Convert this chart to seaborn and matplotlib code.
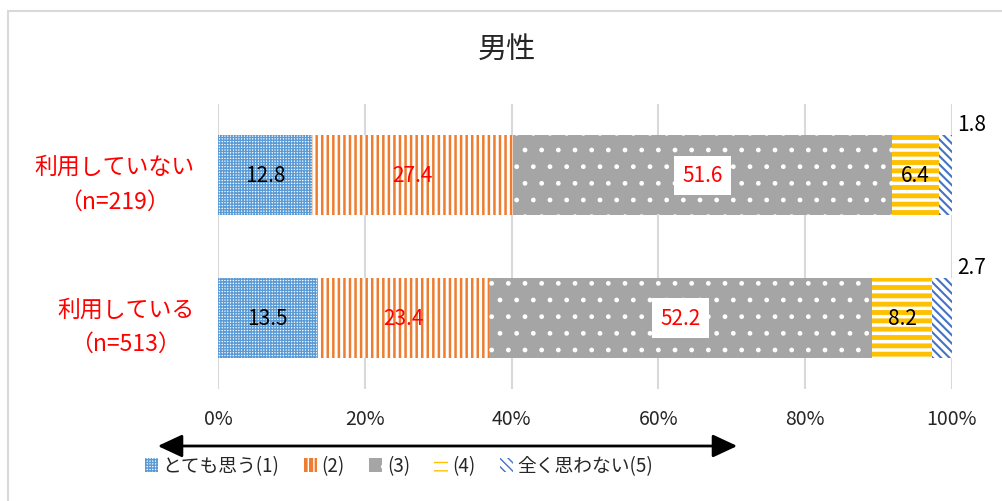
import numpy as np
import pandas as pd
import matplotlib
matplotlib.use("Agg")
import matplotlib.pyplot as plt
import seaborn as sns
from matplotlib.patches import Patch, FancyArrowPatch
from matplotlib.lines import Line2D

# data
groups = ["利用していない\n（n=219）", "利用している\n（n=513）"]
levels = ["とても思う(1)", "(2)", "(3)", "(4)", "全く思わない(5)"]
v1 = [12.8, 13.5]
v2 = [27.4, 23.4]
v3 = [51.6, 52.2]
v4 = [6.4, 8.2]
v5 = [1.8, 2.7]
ticks = [0, 20, 40, 60, 80, 100]

colors = ["#5B9BD5", "#ED7D31", "#A5A5A5", "#FFC000", "#4472C4"]
label_colors = ["black", "red", "red", "black", "black"]

sns.set_theme(style="white")
plt.rcParams["font.family"] = ["Noto Sans CJK JP", "DejaVu Sans"]

df = pd.DataFrame({"group": groups, "v1": v1, "v2": v2, "v3": v3, "v4": v4, "v5": v5})
cols = ["v1", "v2", "v3", "v4", "v5"]
cum = df[cols].cumsum(axis=1)

# face, hatch colour, hatch pattern, hatch width
styles = [
    ("white", colors[0], "++++++", 1.0),
    (colors[1], "white", "|||", 2.2),
    (colors[2], "white", ".", 1.0),
    ("white", colors[3], "--", 3.5),
    ("white", colors[4], "\\\\\\\\", 1.5),
]

fig = plt.figure(figsize=(10.02, 5.02), dpi=100)
ax = fig.add_axes([218 / 1002, 112 / 502, 734 / 1002, 285 / 502])

bar_h = 0.56
for i in range(4, -1, -1):
    face, hc, hatch, hlw = styles[i]
    plt.rcParams["hatch.linewidth"] = hlw
    n_before = len(ax.patches)
    sns.barplot(x=cum[cols[i]], y=df["group"], orient="h", color=face, saturation=1,
                edgecolor=hc, linewidth=0, hatch=hatch, width=bar_h, ax=ax)
    for p in ax.patches[n_before:]:
        if hasattr(p, "set_hatch_linewidth"):
            p.set_hatch_linewidth(hlw)

ax.set_xlim(0, 100)
ax.set_ylim(1.5, -0.5)
ax.set_xticks(ticks)
ax.set_xticklabels([f"{t}%" for t in ticks], fontsize=14)
ax.set_xlabel("")
ax.set_ylabel("")
for sp in ax.spines.values():
    sp.set_visible(False)
ax.grid(axis="x", color="#D9D9D9", linewidth=1.5)
ax.set_axisbelow(True)
ax.tick_params(axis="x", length=0, pad=14)
ax.tick_params(axis="y", length=0, pad=17)
for lab in ax.get_yticklabels():
    lab.set_color("red")
    lab.set_fontsize(16.5)
    lab.set_multialignment("center")
    lab.set_linespacing(1.65)

# value labels
for j in range(len(groups)):
    left = 0
    for i, c in enumerate(cols):
        val = df[c][j]
        if i == 4:
            ax.annotate(f"{val}", xy=(100, j - bar_h / 2), xytext=(20, 11),
                        textcoords="offset pixels", ha="center", va="center",
                        fontsize=15, color="black")
        else:
            kw = {}
            if i == 2:
                kw["bbox"] = dict(boxstyle="square,pad=0.42", fc="white", ec="none")
            ax.text(left + val / 2, j, f"{val}", ha="center", va="center",
                    fontsize=15, color=label_colors[i], **kw)
        left += val

fig.suptitle("男性", x=507 / 1002, y=1 - 50 / 502, va="center", fontsize=21)

# double arrow under the axis
arrow = FancyArrowPatch((155, 502 - 447), (740, 502 - 447), transform=None,
                        arrowstyle="<|-|>,head_length=15,head_width=7",
                        color="black", linewidth=2, mutation_scale=1)
fig.add_artist(arrow)

# legend
handles = []
for i in range(5):
    face, hc, hatch, hlw = styles[i]
    handles.append(Patch(facecolor=face, edgecolor=hc, hatch=hatch, linewidth=0))
fig.legend(handles, levels, loc="center", bbox_to_anchor=(399 / 1002, 35 / 502),
           ncol=5, frameon=False, fontsize=13.5, handlelength=0.7, handleheight=0.7,
           handletextpad=0.25, columnspacing=1.3)

# chart border
fig.add_artist(Line2D([8 / 1002, 8 / 1002], [0, 1 - 12 / 502], color="#D9D9D9", linewidth=1.5))
fig.add_artist(Line2D([8 / 1002, 1], [1 - 12 / 502, 1 - 12 / 502], color="#D9D9D9", linewidth=1.5))

fig.savefig("out.png", dpi=100)
